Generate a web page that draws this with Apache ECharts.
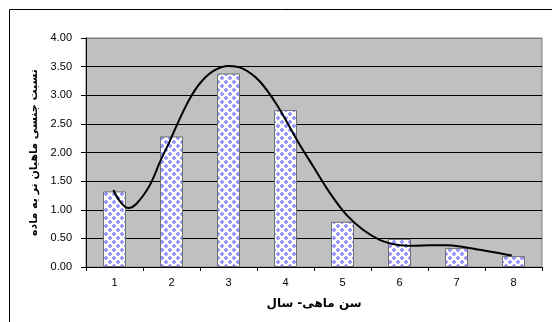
<!DOCTYPE html>
<html>
<head>
<meta charset="utf-8">
<script src="https://cdn.jsdelivr.net/npm/echarts@6/dist/echarts.min.js"></script>
<style>html,body{margin:0;padding:0;background:#fff}#c{width:552px;height:322px}</style>
</head>
<body>
<div id="c"></div>
<script>
const categories = ['1','2','3','4','5','6','7','8'];
const barValues = [1.32, 2.28, 3.38, 2.74, 0.79, 0.49, 0.33, 0.19];
const curveX = [0.98,1.10,1.24,1.39,1.62,1.80,1.97,2.15,2.32,2.50,2.73,3.00,3.26,3.55,3.85,4.20,4.49,4.78,5.07,5.36,5.66,5.95,6.24,6.54,6.83,7.12,7.41,7.71,7.97];
const curveY = [1.345,1.14,1.03,1.11,1.43,1.84,2.20,2.60,2.94,3.21,3.42,3.51,3.46,3.24,2.83,2.22,1.75,1.29,0.91,0.65,0.47,0.39,0.37,0.38,0.38,0.35,0.30,0.25,0.20];
const yTicks = ['0.00','0.50','1.00','1.50','2.00','2.50','3.00','3.50','4.00'];
const yName = 'نسبت جنسی ماهیان نر به ماده';
const xName = 'سن ماهی- سال';

// bar pattern
const pc = document.createElement('canvas');
pc.width = 8; pc.height = 8;
const g = pc.getContext('2d');
g.fillStyle = '#ffffff'; g.fillRect(0,0,8,8);
g.fillStyle = '#9999ff';
function blob(cx, cy){ g.fillRect(cx-1, cy-2, 2, 4); g.fillRect(cx-2, cy-1, 4, 2); }
blob(2,2); blob(6,6);

const chart = echarts.init(document.getElementById('c'), null, {renderer:'canvas'});
chart.setOption({
  animation:false,
  backgroundColor:'#fff',
  graphic:[{type:'rect', shape:{x:9.5,y:9.5,width:600,height:400}, style:{fill:'none', stroke:'#000', lineWidth:1}, silent:true, z:-1}],
  grid:{left:86, top:38, right:10, bottom:55, show:true, backgroundColor:'#c0c0c0', borderColor:'#808080', borderWidth:1},
  xAxis:[{
    type:'category', data:categories, boundaryGap:true,
    name:xName, nameLocation:'middle', nameGap:31,
    nameTextStyle:{fontFamily:'DejaVu Sans', fontWeight:'bold', fontSize:12, color:'#000'},
    axisLine:{lineStyle:{color:'#000', width:1}},
    axisTick:{show:true, length:4, inside:false, alignWithLabel:false, lineStyle:{color:'#000'}},
    axisLabel:{fontFamily:'Liberation Sans', fontSize:11, color:'#000', margin:10},
    splitLine:{show:false}
  },{
    type:'value', min:0.5, max:8.5, show:false
  }],
  yAxis:{
    type:'value', min:0, max:4, interval:0.5,
    name:yName, nameLocation:'middle', nameGap:46, nameRotate:90,
    nameTextStyle:{fontFamily:'DejaVu Sans', fontWeight:'bold', fontSize:11, color:'#000'},
    axisLine:{show:true, lineStyle:{color:'#000'}},
    axisTick:{show:true, length:5, lineStyle:{color:'#000'}},
    axisLabel:{fontFamily:'Liberation Sans', fontSize:11, color:'#000', margin:14,
      formatter:function(v){ return yTicks[Math.round(v/0.5)]; }},
    splitLine:{show:true, lineStyle:{color:['#000','#000','#000','#000','#000','#000','#000','#000','#808080'], width:1}}
  },
  series:[{
    type:'bar', data:barValues, barWidth:23, xAxisIndex:0,
    itemStyle:{color:{image:pc, repeat:'repeat'}, borderColor:'#707070', borderWidth:1},
    z:2
  },{
    type:'line', xAxisIndex:1, smooth:0.35, showSymbol:false, symbol:'none',
    data: curveX.map((x,i)=>[x, curveY[i]]),
    lineStyle:{color:'#000', width:2},
    z:3
  }]
});
</script>
</body>
</html>
